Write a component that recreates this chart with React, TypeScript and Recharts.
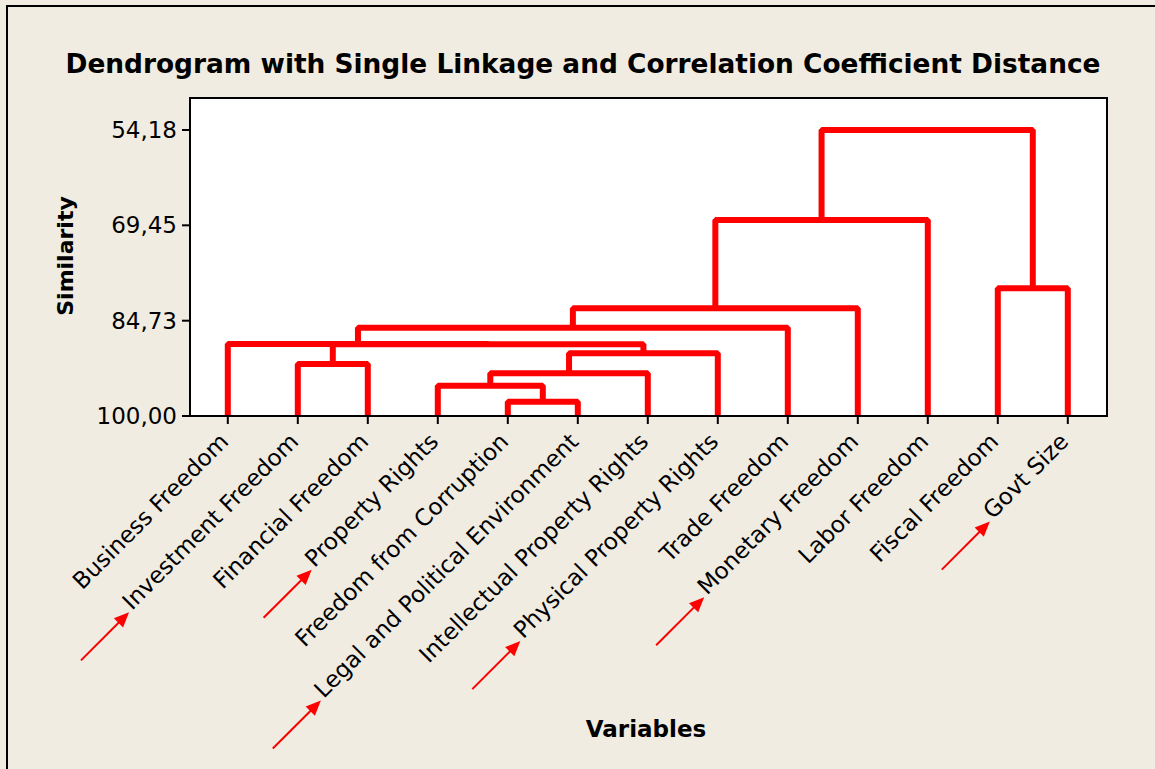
import React, { useLayoutEffect, useRef, useState } from 'react'
import { ComposedChart, Line, XAxis, YAxis, ReferenceArea } from 'recharts'

const variables = [
  'Business Freedom',
  'Investment Freedom',
  'Financial Freedom',
  'Property Rights',
  'Freedom from Corruption',
  'Legal and Political Environment',
  'Intellectual Property Rights',
  'Physical Property Rights',
  'Trade Freedom',
  'Monetary Freedom',
  'Labor Freedom',
  'Fiscal Freedom',
  'Govt Size',
]

// variables marked with a red arrow
const highlighted = [
  'Investment Freedom',
  'Property Rights',
  'Legal and Political Environment',
  'Physical Property Rights',
  'Monetary Freedom',
  'Govt Size',
]

// single linkage merge steps: ids < 13 are leaves, new clusters get 13, 14, ...
const mergeLeft = [4, 3, 14, 1, 15, 16, 0, 19, 20, 11, 21, 23]
const mergeRight = [5, 13, 6, 2, 7, 17, 18, 8, 9, 12, 10, 22]
const mergeSimilarity = [97.71, 95.15, 93.16, 91.67, 89.96, 88.5, 88.48, 85.87, 82.75, 79.54, 68.6, 54.18]

const yTicks = [54.18, 69.45, 84.73, 100]
const xTicks = variables.map((_, i) => i)

const X_DOMAIN: [number, number] = [-0.54, 12.56]
const Y_DOMAIN: [number, number] = [49.05, 100]

const RED = '#ff0000'
const BG = '#f0ece2'
const FONT = '"DejaVu Sans", Verdana, sans-serif'

// build the U-shaped links from the merge table
const pos: number[] = variables.map((_, i) => i)
const height: number[] = variables.map(() => 100)
const links = mergeLeft.map((l, i) => {
  const r = mergeRight[i]
  const s = mergeSimilarity[i]
  const pts = [
    { x: pos[l], y: height[l] },
    { x: pos[l], y: s },
    { x: pos[r], y: s },
    { x: pos[r], y: height[r] },
  ]
  pos.push((pos[l] + pos[r]) / 2)
  height.push(s)
  return pts
})

function VariableTick({ x, y, payload }: any) {
  const name = variables[payload.value]
  const ref = useRef<SVGTextElement>(null)
  const [len, setLen] = useState(0)
  useLayoutEffect(() => {
    if (ref.current) setLen(ref.current.getComputedTextLength())
  }, [name])
  const arrow = highlighted.includes(name) && len > 0
  const tip = -len - 3
  return (
    <g transform={`translate(${x + 2},${y + 17}) rotate(-45)`}>
      <text ref={ref} x={0} y={0} textAnchor="end" fontSize={23} fontFamily={FONT} fill="#000">
        {name}
      </text>
      {arrow && (
        <g>
          <line x1={tip - 68} y1={-1} x2={tip - 12} y2={-1} stroke={RED} strokeWidth={2} />
          <polygon points={`${tip},-1 ${tip - 15},-7.5 ${tip - 15},5.5`} fill={RED} />
        </g>
      )}
    </g>
  )
}

export default function App() {
  return (
    <div style={{ position: 'absolute', left: 0, top: 0, width: 1155, height: 769, background: BG, overflow: 'hidden' }}>
      <div style={{ position: 'absolute', left: 6, top: 5, width: 1160, height: 780, borderLeft: '2px solid #000', borderTop: '2px solid #000' }} />
      <ComposedChart
        width={1155}
        height={769}
        margin={{ top: 98, right: 48, bottom: 53, left: 110 }}
        style={{ position: 'absolute', left: 0, top: 0 }}
      >
        <XAxis
          dataKey="x"
          type="number"
          domain={X_DOMAIN}
          ticks={xTicks}
          allowDataOverflow
          height={300}
          interval={0}
          axisLine={{ stroke: '#000', strokeWidth: 2 }}
          tickLine={{ stroke: '#000', strokeWidth: 2 }}
          tickSize={8}
          tick={<VariableTick />}
        />
        <YAxis
          type="number"
          domain={Y_DOMAIN}
          reversed
          allowDataOverflow
          ticks={yTicks}
          width={80}
          tickSize={8}
          tickMargin={5}
          axisLine={{ stroke: '#000', strokeWidth: 2 }}
          tickLine={{ stroke: '#000', strokeWidth: 2 }}
          tick={{ fill: '#000', fontSize: 23, fontFamily: FONT }}
          tickFormatter={(v: number) => v.toFixed(2).replace('.', ',')}
        />
        <ReferenceArea
          x1={X_DOMAIN[0]}
          x2={X_DOMAIN[1]}
          y1={Y_DOMAIN[0]}
          y2={Y_DOMAIN[1]}
          fill="#ffffff"
          fillOpacity={1}
          stroke="#000"
          strokeWidth={2}
        />
        {links.map((pts, i) => (
          <Line
            key={i}
            data={pts}
            dataKey="y"
            type="linear"
            stroke={RED}
            strokeWidth={6}
            strokeLinejoin="bevel"
            dot={false}
            activeDot={false}
            isAnimationActive={false}
          />
        ))}
      </ComposedChart>
      <svg width={1155} height={769} style={{ position: 'absolute', left: 0, top: 0, pointerEvents: 'none' }}>
        <text x={583} y={73} textAnchor="middle" fontSize={27} fontWeight="bold" fontFamily={FONT} textLength={1035} lengthAdjust="spacingAndGlyphs">
          Dendrogram with Single Linkage and Correlation Coefficient Distance
        </text>
        <text transform="translate(73,256) rotate(-90)" textAnchor="middle" fontSize={22} fontWeight="bold" fontFamily={FONT}>
          Similarity
        </text>
        <text x={646} y={737} textAnchor="middle" fontSize={23} fontWeight="bold" fontFamily={FONT}>
          Variables
        </text>
      </svg>
    </div>
  )
}
